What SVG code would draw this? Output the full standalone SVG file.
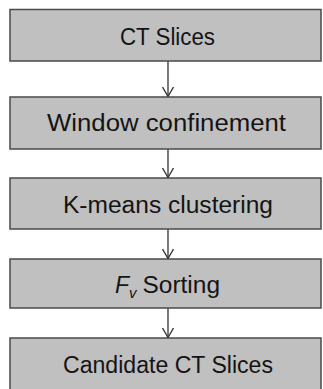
<svg xmlns="http://www.w3.org/2000/svg" width="323" height="389" viewBox="0 0 323 389">
<style>
.box{fill:#c0c0c0;stroke:#4a4a4a;stroke-width:1.5}
.lbl{font-family:"Liberation Sans",Arial,sans-serif;font-size:23px;fill:#141414}
.edge{stroke:#333;stroke-width:1.3;fill:none}
</style>
<defs>
<marker id="ah" viewBox="0 0 10 12" refX="10" refY="6" markerWidth="10" markerHeight="12" markerUnits="userSpaceOnUse" orient="auto">
<path d="M0.5,0.5 L10,6 L0.5,11.5" fill="none" stroke="#333" stroke-width="1.3"/>
</marker>
</defs>
<rect width="323" height="389" fill="#ffffff"/>
<g id="connectors">
<line class="edge" x1="168" y1="61" x2="168" y2="96.5" marker-end="url(#ah)"/>
<line class="edge" x1="168" y1="149" x2="168" y2="177.5" marker-end="url(#ah)"/>
<line class="edge" x1="168" y1="229" x2="168" y2="258.5" marker-end="url(#ah)"/>
<line class="edge" x1="168" y1="308" x2="168" y2="337.5" marker-end="url(#ah)"/>
</g>
<g id="n1">
<rect class="box" x="10" y="9.5" width="311" height="51.5"/>
<text class="lbl" x="120" y="44.5" textLength="95" lengthAdjust="spacingAndGlyphs">CT Slices</text>
</g>
<g id="n2">
<rect class="box" x="10" y="97" width="311" height="52"/>
<text class="lbl" x="47" y="131" textLength="239" lengthAdjust="spacingAndGlyphs">Window confinement</text>
</g>
<g id="n3">
<rect class="box" x="10" y="178" width="311" height="51"/>
<text class="lbl" x="63" y="212.5" textLength="210" lengthAdjust="spacingAndGlyphs">K-means clustering</text>
</g>
<g id="n4">
<rect class="box" x="10" y="259" width="311" height="49"/>
<text class="lbl" x="115" y="292.5"><tspan font-style="italic">F</tspan><tspan font-style="italic" font-size="15" dy="5">v</tspan></text>
<text class="lbl" x="142.5" y="292.5" textLength="77.5" lengthAdjust="spacingAndGlyphs">Sorting</text>
</g>
<g id="n5">
<rect class="box" x="10" y="338" width="311" height="60"/>
<text class="lbl" x="63" y="372.5" textLength="210" lengthAdjust="spacingAndGlyphs">Candidate CT Slices</text>
</g>
</svg>
